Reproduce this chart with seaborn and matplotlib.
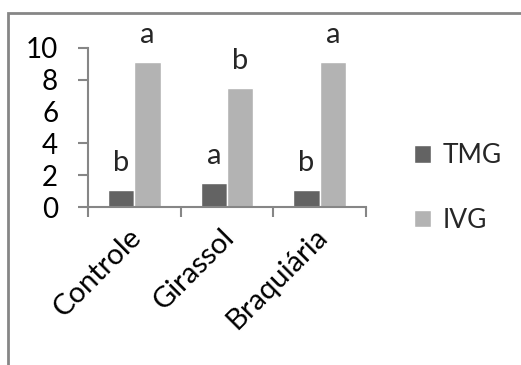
import matplotlib
matplotlib.use("Agg")
import matplotlib.pyplot as plt
from matplotlib.patches import Rectangle
from matplotlib.ticker import FixedLocator
from matplotlib.transforms import ScaledTranslation
import pandas as pd
import seaborn as sns

# Dados do gráfico
tratamentos = ["Controle", "Girassol", "Braquiária"]
tmg = [1.1, 1.5, 1.1]
ivg = [9.1, 7.5, 9.1]
letras_tmg = ["b", "a", "b"]
letras_ivg = ["a", "b", "a"]
series = ["TMG", "IVG"]
yticks = [0, 2, 4, 6, 8, 10]

df = pd.DataFrame({
    "Tratamento": tratamentos * 2,
    "Valor": tmg + ivg,
    "Variável": [series[0]] * 3 + [series[1]] * 3,
})

sns.set_theme(style="white")
plt.rcParams["font.family"] = ["Lato", "DejaVu Sans"]

W, H, DPI = 521, 365, 100
fig = plt.figure(figsize=(W / DPI, H / DPI), dpi=DPI)
ax = fig.add_axes([88 / W, 1 - 207 / H, (366 - 88) / W, (207 - 48) / H])

gray_axis = "#868686"
sns.barplot(data=df, x="Tratamento", y="Valor", hue="Variável",
            palette=["#636363", "#b3b3b3"], width=0.57, gap=0,
            saturation=1, ax=ax)

ax.set_xlim(-0.5, 2.5)
ax.set_ylim(0, 10)
ax.set_xlabel("")
ax.set_ylabel("")

for side in ["top", "right"]:
    ax.spines[side].set_visible(False)
for side in ["left", "bottom"]:
    ax.spines[side].set_color(gray_axis)
    ax.spines[side].set_linewidth(1.5)

ax.set_yticks(yticks)
ax.tick_params(axis="y", which="major", direction="out", length=7.5,
               width=1.5, color=gray_axis, pad=14, labelsize=20,
               labelcolor="black", left=True)
ax.yaxis.get_major_ticks()[3].tick1line.set_visible(False)

ax.xaxis.set_minor_locator(FixedLocator([-0.5, 0.5, 1.5, 2.5]))
ax.tick_params(axis="x", which="major", length=0, pad=12, labelsize=21,
               labelcolor="black")
ax.tick_params(axis="x", which="minor", direction="out", length=7.5,
               width=1.5, color=gray_axis, bottom=True)
shift = ScaledTranslation(-6 / DPI, 0, fig.dpi_scale_trans)
for lab in ax.get_xticklabels():
    lab.set_rotation(45)
    lab.set_ha("right")
    lab.set_va("top")
    lab.set_rotation_mode("anchor")
    lab.set_transform(lab.get_transform() + shift)

# Letras de significância sobre as barras
for cont, letras in zip(ax.containers, [letras_tmg, letras_ivg]):
    ax.bar_label(cont, labels=letras, padding=10, fontsize=21)

handles, labels = ax.get_legend_handles_labels()
ax.legend(handles, labels, loc="center left", bbox_to_anchor=(1.135, 0.12),
          frameon=False, fontsize=19, handlelength=0.65, handleheight=0.65,
          handletextpad=0.45, labelspacing=1.5, borderaxespad=0)

# Moldura da área do gráfico
fig.patches.append(Rectangle((8 / W, -0.2), 1.5, 1 - 13 / H + 0.2,
                             transform=fig.transFigure, fill=False,
                             ec=gray_axis, lw=2))

fig.savefig("out.png", dpi=DPI, facecolor="white")
